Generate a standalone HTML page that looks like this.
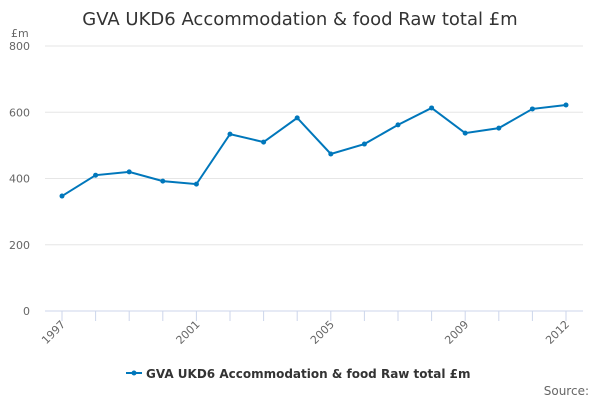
<!DOCTYPE html>
<html><head><meta charset="utf-8"><style>
body{margin:0;background:#fff;font-family:"DejaVu Sans","Liberation Sans",sans-serif;}
svg text{font-family:"DejaVu Sans","Liberation Sans",sans-serif;}
</style></head><body>
<svg id="chart" width="600" height="400" xmlns="http://www.w3.org/2000/svg">
<text x="300" y="25" text-anchor="middle" font-size="18" fill="#333">GVA UKD6 Accommodation &amp; food Raw total £m</text>
<text x="11" y="37" font-size="11" fill="#666">£m</text>
<g id="grid"></g>
<g id="xaxis"></g>
<g id="series"></g>
<g>
<line x1="126" y1="373" x2="142" y2="373" stroke="#0077bb" stroke-width="2"/>
<circle cx="134" cy="373" r="2.5" fill="#0077bb"/>
<text x="146" y="378" font-size="12" font-weight="bold" fill="#333">GVA UKD6 Accommodation &amp; food Raw total £m</text>
</g>
<text x="589" y="395" text-anchor="end" font-size="12" fill="#666">Source:</text>
</svg>
<script>
const years=[1997,1998,1999,2000,2001,2002,2003,2004,2005,2006,2007,2008,2009,2010,2011,2012];
const values=[347,410,420,392,383,534,510,583,474,504,562,613,537,552,610,622];
const yTicks=[0,200,400,600,800];
const xLabels=[1997,2001,2005,2009,2012];
const NS="http://www.w3.org/2000/svg";
const x=v=>62+(v-1997)*(566-62)/15;
const y=v=>311-v*(265/800);
function mk(t,a,p){const e=document.createElementNS(NS,t);for(const k in a)e.setAttribute(k,a[k]);p.appendChild(e);return e;}
const g=document.getElementById('grid');
yTicks.forEach(t=>{
 const l=mk('line',{x1:45,x2:583,y1:y(t),y2:y(t),stroke:t===0?'#ccd6eb':'#e6e6e6','stroke-width':1},g);
 
 
 const tx=mk('text',{x:30,y:y(t)+4,'text-anchor':'end','font-size':11,fill:'#666'},g);
 tx.textContent=t;
 
 
});
const xa=document.getElementById('xaxis');
years.forEach(yr=>{
 const t=mk('line',{x1:x(yr),x2:x(yr),y1:311,y2:321,stroke:'#ccd6eb'},xa);
 
 
});
xLabels.forEach(yr=>{
 const tx=mk('text',{x:x(yr)+4,y:325,'text-anchor':'end','font-size':11,fill:'#666',transform:`rotate(-45 ${x(yr)+4} 325)`},xa);
 tx.textContent=yr;
 
 
});
const s=document.getElementById('series');
const p=mk('path',{d:years.map((yr,i)=>(i?'L':'M')+x(yr)+' '+y(values[i])).join(' '),fill:'none',stroke:'#0077bb','stroke-width':2},s);


years.forEach((yr,i)=>{
 const c=mk('circle',{cx:x(yr),cy:y(values[i]),r:2.5,fill:'#0077bb'},s);
 
 
});
</script>
</body></html>
